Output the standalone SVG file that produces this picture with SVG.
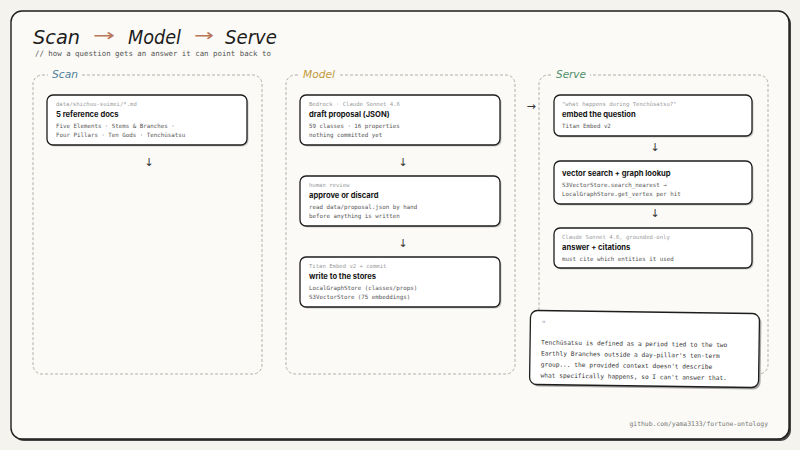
<svg xmlns="http://www.w3.org/2000/svg" width="800" height="450" viewBox="0 0 800 450">
<style>
.title{font-family:"DejaVu Sans",sans-serif;font-style:italic;font-size:19px;fill:#1d1d1d}
.tarrow{font-family:"DejaVu Sans",sans-serif;font-size:17px;fill:#b9775a}
.sub{font-family:"DejaVu Sans Mono","Liberation Mono",monospace;font-size:7.4px;fill:#555}
.plabel{font-family:"DejaVu Sans",sans-serif;font-style:italic;font-size:10.5px}
.panel{fill:none;stroke:#b3b0a8;stroke-width:1;stroke-dasharray:3 2}
.node{fill:#fff;stroke:#1d1d1d;stroke-width:1.3}
.shadow{fill:#6b6b6b;opacity:.35}
.meta{font-family:"DejaVu Sans Mono","Liberation Mono",monospace;font-size:5.6px;fill:#9a9a9a}
.head{font-family:"Inter","Liberation Sans",sans-serif;font-weight:700;font-size:7.6px;fill:#151515}
.body{font-family:"DejaVu Sans Mono","Liberation Mono",monospace;font-size:5.8px;fill:#555}
.conn{font-family:"DejaVu Sans",sans-serif;font-size:11px;fill:#333;text-anchor:middle}
.quote{font-family:"DejaVu Sans Mono","Liberation Mono",monospace;font-size:6.2px;fill:#333}
.foot{font-family:"DejaVu Sans Mono","Liberation Mono",monospace;font-size:6.4px;fill:#777}
</style>
<rect x="0" y="0" width="800" height="450" fill="#f5f3ee"/>
<rect x="13" y="13" width="778" height="428" rx="11" fill="#444"/>
<rect x="11" y="11" width="778" height="428" rx="11" fill="#fbfaf6" stroke="#1d1d1d" stroke-width="1.4"/>

<g id="title">
<text class="title" x="33" y="44" textLength="47" lengthAdjust="spacingAndGlyphs">Scan</text>
<text class="tarrow" x="93" y="41" textLength="22" lengthAdjust="spacingAndGlyphs">→</text>
<text class="title" x="128" y="44" textLength="53" lengthAdjust="spacingAndGlyphs">Model</text>
<text class="tarrow" x="194" y="41" textLength="20" lengthAdjust="spacingAndGlyphs">→</text>
<text class="title" x="225" y="44" textLength="52" lengthAdjust="spacingAndGlyphs">Serve</text>
<text class="sub" x="35" y="56">// how a question gets an answer it can point back to</text>
</g>

<g id="panel-scan">
<rect class="panel" x="33" y="75" width="229" height="299" rx="9"/>
<rect x="48" y="68" width="33" height="12" fill="#fbfaf6"/>
<text class="plabel" x="52" y="78" fill="#4f7f97" textLength="26" lengthAdjust="spacingAndGlyphs">Scan</text>
</g>
<g id="panel-model">
<rect class="panel" x="286" y="75" width="229" height="299" rx="9"/>
<rect x="300" y="68" width="38" height="12" fill="#fbfaf6"/>
<text class="plabel" x="303" y="78" fill="#c19a3c" textLength="32" lengthAdjust="spacingAndGlyphs">Model</text>
</g>
<g id="panel-serve">
<rect class="panel" x="539" y="75" width="229" height="299" rx="9"/>
<rect x="553" y="68" width="37" height="12" fill="#fbfaf6"/>
<text class="plabel" x="556" y="78" fill="#4f8f6b" textLength="30" lengthAdjust="spacingAndGlyphs">Serve</text>
</g>

<g id="scan-docs">
<rect class="shadow" x="48.5" y="96.5" width="200" height="50" rx="6"/>
<rect class="node" x="47" y="95" width="200" height="50" rx="6"/>
<text class="meta" x="56" y="106">data/shichuu-suimei/*.md</text>
<text class="head" x="56" y="117">5 reference docs</text>
<text class="body" x="56" y="127.5">Five Elements · Stems &amp; Branches ·</text>
<text class="body" x="56" y="136.5">Four Pillars · Ten Gods · Tenchūsatsu</text>
</g>

<g id="model-draft">
<rect class="shadow" x="301.5" y="96.5" width="200" height="50" rx="6"/>
<rect class="node" x="300" y="95" width="200" height="50" rx="6"/>
<text class="meta" x="309" y="106">Bedrock · Claude Sonnet 4.6</text>
<text class="head" x="309" y="117">draft proposal (JSON)</text>
<text class="body" x="309" y="127.5">59 classes · 16 properties</text>
<text class="body" x="309" y="136.5">nothing committed yet</text>
</g>

<g id="model-review">
<rect class="shadow" x="301.5" y="177.5" width="200" height="50" rx="6"/>
<rect class="node" x="300" y="176" width="200" height="50" rx="6" fill="#fbf2b0"/>
<text class="meta" x="309" y="187">human review</text>
<text class="head" x="309" y="198">approve or discard</text>
<text class="body" x="309" y="208.5">read data/proposal.json by hand</text>
<text class="body" x="309" y="217.5">before anything is written</text>
</g>

<g id="model-write">
<rect class="shadow" x="301.5" y="258.5" width="200" height="50" rx="6"/>
<rect class="node" x="300" y="257" width="200" height="50" rx="6"/>
<text class="meta" x="309" y="268">Titan Embed v2 + commit</text>
<text class="head" x="309" y="279">write to the stores</text>
<text class="body" x="309" y="289.5">LocalGraphStore (classes/props)</text>
<text class="body" x="309" y="298.5">S3VectorStore (75 embeddings)</text>
</g>

<g id="serve-embed">
<rect class="shadow" x="555.5" y="96.5" width="198" height="41" rx="6"/>
<rect class="node" x="554" y="95" width="198" height="41" rx="6"/>
<text class="meta" x="562" y="106">"what happens during Tenchūsatsu?"</text>
<text class="head" x="562" y="117">embed the question</text>
<text class="body" x="562" y="127.5">Titan Embed v2</text>
</g>

<g id="serve-search">
<rect class="shadow" x="555.5" y="162.5" width="198" height="43" rx="6"/>
<rect class="node" x="554" y="161" width="198" height="43" rx="6"/>
<text class="head" x="562" y="176">vector search + graph lookup</text>
<text class="body" x="562" y="186.5">S3VectorStore.search_nearest →</text>
<text class="body" x="562" y="195.5">LocalGraphStore.get_vertex per hit</text>
</g>

<g id="serve-answer">
<rect class="shadow" x="555.5" y="229.5" width="198" height="40" rx="6"/>
<rect class="node" x="554" y="228" width="198" height="40" rx="6" fill="#e4f0e4"/>
<text class="meta" x="562" y="239">Claude Sonnet 4.6, grounded-only</text>
<text class="head" x="562" y="250">answer + citations</text>
<text class="body" x="562" y="260.5">must cite which entities it used</text>
</g>

<g id="quote" transform="rotate(0.8 645 350)">
<rect x="532" y="314" width="229" height="74" rx="7" fill="#555" opacity=".5"/>
<rect x="530" y="312" width="229" height="74" rx="7" fill="#fff" stroke="#1d1d1d" stroke-width="1.3"/>
<text class="meta" x="541" y="328" style="font-size:8px">"</text>
<text class="quote" x="541" y="346">Tenchūsatsu is defined as a period tied to the two</text>
<text class="quote" x="541" y="357">Earthly Branches outside a day-pillar's ten-term</text>
<text class="quote" x="541" y="368">group... the provided context doesn't describe</text>
<text class="quote" x="541" y="379">what specifically happens, so I can't answer that.</text>
</g>

<g id="connectors">
<text class="conn" x="149" y="166">↓</text>
<text class="conn" x="403" y="166">↓</text>
<text class="conn" x="403" y="247">↓</text>
<text class="conn" x="655" y="151">↓</text>
<text class="conn" x="655" y="217">↓</text>
<text class="conn" x="531" y="110">→</text>
</g>

<text class="foot" x="768" y="426" text-anchor="end">github.com/yama3133/fortune-ontology</text>
</svg>
